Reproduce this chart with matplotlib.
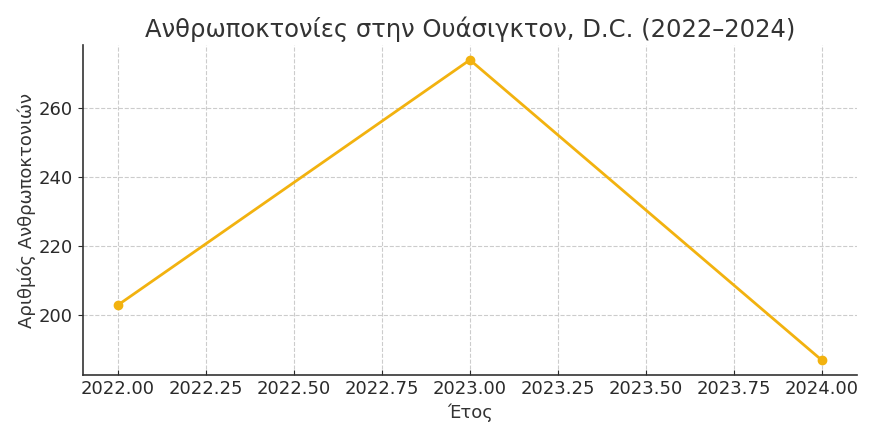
import matplotlib
matplotlib.use("Agg")
import matplotlib.pyplot as plt

years = [2022, 2023, 2024]
homicides = [203, 274, 187]

title = "Ανθρωποκτονίες στην Ουάσιγκτον, D.C. (2022–2024)"
xlabel = "Έτος"
ylabel = "Αριθμός Ανθρωποκτονιών"

plt.rcParams['font.family'] = ['DejaVu Sans']
fig, ax = plt.subplots(figsize=(8.8, 4.4), dpi=100)
fig.subplots_adjust(left=0.094, right=0.974, top=0.898, bottom=0.147)

ax.plot(years, homicides, color='#F2B20F', linewidth=2, marker='o', markersize=6)

ax.set_title(title, fontsize=17.5, color='#333333')
ax.set_xlabel(xlabel, fontsize=13, color='#333333')
ax.set_ylabel(ylabel, fontsize=13, color='#333333', labelpad=2)

ax.set_xticks([2022.0, 2022.25, 2022.5, 2022.75, 2023.0, 2023.25, 2023.5, 2023.75, 2024.0])
ax.set_xticklabels(["%.2f" % v for v in ax.get_xticks()])
ax.set_yticks([200, 220, 240, 260])

ax.tick_params(axis='both', labelsize=13, colors='#2a2a2a')
ax.tick_params(axis='x', direction='in')
ax.grid(True, linestyle='--', color='#cccccc', linewidth=0.8)
for s in ['top', 'right']:
    ax.spines[s].set_visible(False)
for s in ['left', 'bottom']:
    ax.spines[s].set_color('#333333')
    ax.spines[s].set_linewidth(1.2)

fig.savefig("out.png")
